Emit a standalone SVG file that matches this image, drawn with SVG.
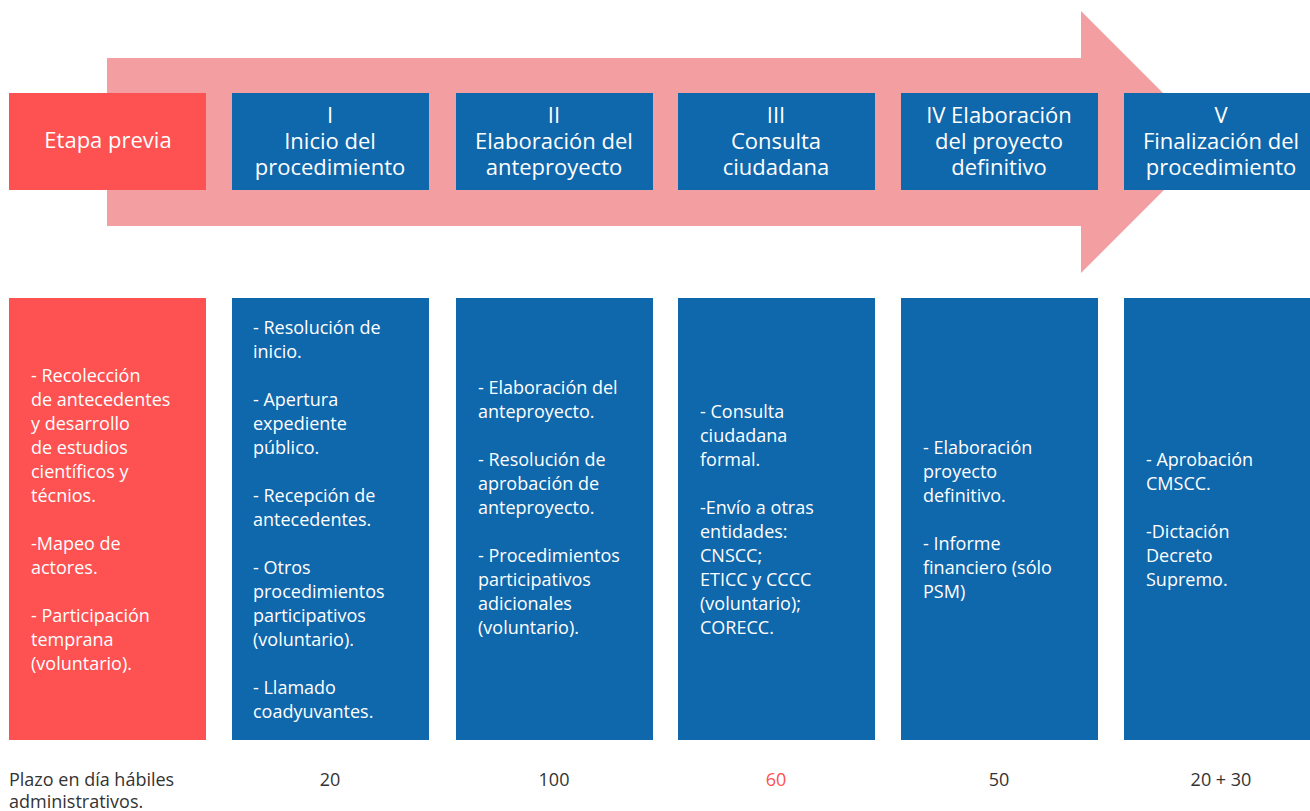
<svg xmlns="http://www.w3.org/2000/svg" width="1310" height="811" viewBox="0 0 1310 811">
<style>
.red{fill:#FD5152}
.blue{fill:#0F67AC}
.hd{font-family:"Open Sans",Lato,sans-serif;font-size:22px;fill:#fff;text-anchor:middle}
.bd{font-family:"Open Sans",Lato,sans-serif;font-size:18px;fill:#fff}
.ft{font-family:"Open Sans",Lato,sans-serif;font-size:18px;fill:#333}
.num{font-family:"Open Sans",Lato,sans-serif;font-size:18px;fill:#333;text-anchor:middle}
</style>
<rect width="1310" height="811" fill="#fff"/>
<g id="arrow">
<path d="M107,58 H1081 V11 L1212,142 L1081,273 V226 H107 Z" fill="#F39EA1"/>
</g>
<g id="h0"><rect class="red" x="9" y="93" width="197" height="97"/>
<text class="hd" x="108" y="148">Etapa previa</text></g>
<g id="h1"><rect class="blue" x="232" y="93" width="197" height="97"/>
<text class="hd"><tspan x="330" y="123">I</tspan><tspan x="330" y="149">Inicio del</tspan><tspan x="330" y="175">procedimiento</tspan></text></g>
<g id="h2"><rect class="blue" x="456" y="93" width="197" height="97"/>
<text class="hd"><tspan x="554" y="123">II</tspan><tspan x="554" y="149">Elaboración del</tspan><tspan x="554" y="175">anteproyecto</tspan></text></g>
<g id="h3"><rect class="blue" x="678" y="93" width="197" height="97"/>
<text class="hd"><tspan x="776" y="123">III</tspan><tspan x="776" y="149">Consulta</tspan><tspan x="776" y="175">ciudadana</tspan></text></g>
<g id="h4"><rect class="blue" x="901" y="93" width="197" height="97"/>
<text class="hd"><tspan x="999" y="123">IV Elaboración</tspan><tspan x="999" y="149">del proyecto</tspan><tspan x="999" y="175">definitivo</tspan></text></g>
<g id="h5"><rect class="blue" x="1124" y="93" width="197" height="97"/>
<text class="hd"><tspan x="1221" y="123">V</tspan><tspan x="1221" y="149">Finalización del</tspan><tspan x="1221" y="175">procedimiento</tspan></text></g>

<g id="b0"><rect class="red" x="9" y="298" width="197" height="442"/>
<text class="bd"><tspan x="31" y="382">- Recolección</tspan><tspan x="31" y="406">de antecedentes</tspan><tspan x="31" y="430">y desarrollo</tspan><tspan x="31" y="454">de estudios</tspan><tspan x="31" y="478">científicos y</tspan><tspan x="31" y="502">técnios.</tspan><tspan x="31" y="550">-Mapeo de</tspan><tspan x="31" y="574">actores.</tspan><tspan x="31" y="622">- Participación</tspan><tspan x="31" y="646">temprana</tspan><tspan x="31" y="670">(voluntario).</tspan></text></g>
<g id="b1"><rect class="blue" x="232" y="298" width="197" height="442"/>
<text class="bd"><tspan x="253" y="334">- Resolución de</tspan><tspan x="253" y="358">inicio.</tspan><tspan x="253" y="406">- Apertura</tspan><tspan x="253" y="430">expediente</tspan><tspan x="253" y="454">público.</tspan><tspan x="253" y="502">- Recepción de</tspan><tspan x="253" y="526">antecedentes.</tspan><tspan x="253" y="574">- Otros</tspan><tspan x="253" y="598">procedimientos</tspan><tspan x="253" y="622">participativos</tspan><tspan x="253" y="646">(voluntario).</tspan><tspan x="253" y="694">- Llamado</tspan><tspan x="253" y="718">coadyuvantes.</tspan></text></g>
<g id="b2"><rect class="blue" x="456" y="298" width="197" height="442"/>
<text class="bd"><tspan x="478" y="394">- Elaboración del</tspan><tspan x="478" y="418">anteproyecto.</tspan><tspan x="478" y="466">- Resolución de</tspan><tspan x="478" y="490">aprobación de</tspan><tspan x="478" y="514">anteproyecto.</tspan><tspan x="478" y="562">- Procedimientos</tspan><tspan x="478" y="586">participativos</tspan><tspan x="478" y="610">adicionales</tspan><tspan x="478" y="634">(voluntario).</tspan></text></g>
<g id="b3"><rect class="blue" x="678" y="298" width="197" height="442"/>
<text class="bd"><tspan x="700" y="418">- Consulta</tspan><tspan x="700" y="442">ciudadana</tspan><tspan x="700" y="466">formal.</tspan><tspan x="700" y="514">-Envío a otras</tspan><tspan x="700" y="538">entidades:</tspan><tspan x="700" y="562">CNSCC;</tspan><tspan x="700" y="586">ETICC y CCCC</tspan><tspan x="700" y="610">(voluntario);</tspan><tspan x="700" y="634">CORECC.</tspan></text></g>
<g id="b4"><rect class="blue" x="901" y="298" width="197" height="442"/>
<text class="bd"><tspan x="923" y="454">- Elaboración</tspan><tspan x="923" y="478">proyecto</tspan><tspan x="923" y="502">definitivo.</tspan><tspan x="923" y="550">- Informe</tspan><tspan x="923" y="574">financiero (sólo</tspan><tspan x="923" y="598">PSM)</tspan></text></g>
<g id="b5"><rect class="blue" x="1124" y="298" width="197" height="442"/>
<text class="bd"><tspan x="1146" y="466">- Aprobación</tspan><tspan x="1146" y="490">CMSCC.</tspan><tspan x="1146" y="538">-Dictación</tspan><tspan x="1146" y="562">Decreto</tspan><tspan x="1146" y="586">Supremo.</tspan></text></g>

<g id="footer">
<text class="ft"><tspan x="9" y="786">Plazo en día hábiles</tspan><tspan x="9" y="808">administrativos.</tspan></text>
<text class="num" x="330" y="786">20</text>
<text class="num" x="554" y="786">100</text>
<text class="num" x="776" y="786" style="fill:#FD5152">60</text>
<text class="num" x="999" y="786">50</text>
<text class="num" x="1221" y="786">20 + 30</text>
</g>
<g id="connectors"></g>
</svg>
